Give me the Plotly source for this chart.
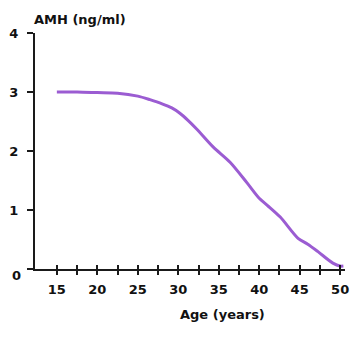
import plotly.graph_objects as go

ages = [15, 17.5, 20, 22.5, 25, 26.5, 28, 29.2, 30.2, 31.2, 32.3, 34.3, 36.4, 38.5, 40, 41, 42.6, 44.8, 46, 47.3, 49.1, 50, 50.4]
amh = [3.0, 3.0, 2.99, 2.98, 2.93, 2.87, 2.80, 2.73, 2.64, 2.52, 2.37, 2.07, 1.81, 1.46, 1.20, 1.08, 0.88, 0.52, 0.42, 0.29, 0.10, 0.05, 0.05]

x_tickvals = [15, 17.5, 20, 22.5, 25, 27.5, 30, 32.5, 35, 37.5, 40, 42.5, 45, 47.5, 50]
x_ticktext = ["15", "", "20", "", "25", "", "30", "", "35", "", "40", "", "45", "", "50"]
y_tickvals = [0, 1, 2, 3, 4]
y_ticktext = ["", "1", "2", "3", "4"]
y_zero_label = "0"

FONT = "DejaVu Sans"
LINE_COL = "#9b5cd2"
AX_COL = "#1a1a1a"
TXT_COL = "#111"
XRANGE = [12.3, 50.6]

fig = go.Figure()
fig.add_trace(go.Scatter(x=ages, y=amh, mode="lines",
                         line=dict(color=LINE_COL, width=3, shape="spline", smoothing=0.8),
                         showlegend=False, hoverinfo="skip"))
fig.add_trace(go.Scatter(x=[XRANGE[0]], y=[-1], mode="markers", xaxis="x2", yaxis="y",
                         marker=dict(opacity=0), showlegend=False, hoverinfo="skip"))

fig.update_layout(
    width=360, height=337,
    margin=dict(l=35, r=15, t=33, b=68),
    paper_bgcolor="white", plot_bgcolor="white",
    font=dict(family=FONT, color=TXT_COL, size=13),
    xaxis=dict(range=XRANGE, tickmode="array", tickvals=x_tickvals, ticktext=x_ticktext,
               ticks="outside", ticklen=4, tickwidth=2, tickcolor=AX_COL, automargin=False,
               showline=True, linecolor=AX_COL, linewidth=2, showgrid=False, zeroline=False,
               tickfont=dict(family=FONT, size=13, weight="bold", color=TXT_COL),
               ticklabelstandoff=3),
    xaxis2=dict(range=XRANGE, overlaying="x", anchor="y", side="bottom", automargin=False,
                tickmode="array", tickvals=x_tickvals, showticklabels=False,
                ticks="inside", ticklen=4, tickwidth=2, tickcolor=AX_COL,
                showline=False, showgrid=False, zeroline=False),
    yaxis=dict(range=[0, 4], tickmode="array", tickvals=y_tickvals, ticktext=y_ticktext,
               ticks="outside", ticklen=6, tickwidth=2, tickcolor=AX_COL, automargin=False,
               showline=True, linecolor=AX_COL, linewidth=2, showgrid=False, zeroline=False,
               tickfont=dict(family=FONT, size=13, weight="bold", color=TXT_COL),
               ticklabelstandoff=6),
    annotations=[
        dict(text=y_zero_label, xref="paper", yref="y", x=0, y=0,
             xanchor="right", yanchor="middle", xshift=-12, yshift=-6, showarrow=False,
             font=dict(family=FONT, size=13, weight="bold", color=TXT_COL)),
        dict(text="AMH (ng/ml)", xref="paper", yref="paper", x=-0.01, y=1.0,
             xanchor="left", yanchor="bottom", yshift=4, showarrow=False,
             font=dict(family=FONT, size=13, weight="bold", color=TXT_COL)),
        dict(text="Age (years)", xref="paper", yref="paper", x=0.605, y=0,
             xanchor="center", yanchor="top", yshift=-36, showarrow=False,
             font=dict(family=FONT, size=13, weight="bold", color=TXT_COL)),
    ],
)

fig.write_html("out.html")
